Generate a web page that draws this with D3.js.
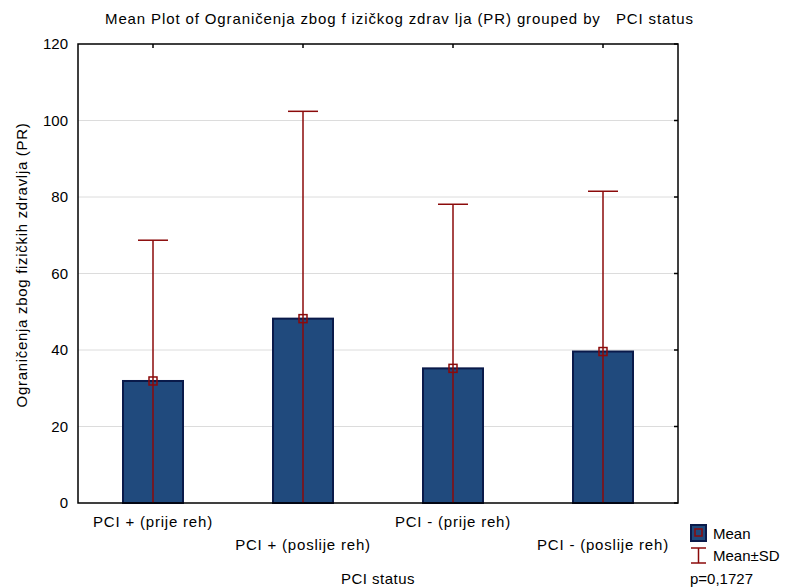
<!DOCTYPE html>
<html><head><meta charset="utf-8">
<script src="https://cdn.jsdelivr.net/npm/d3@7"></script>
<style>body{margin:0;background:#fff}svg{display:block;font-family:"Liberation Sans",Arial,sans-serif}text{white-space:pre}</style>
</head><body><svg id="c" width="787" height="588"></svg>
<script>
const categories = ["PCI + (prije reh)", "PCI + (poslije reh)", "PCI - (prije reh)", "PCI - (poslije reh)"];
const means = [31.9, 48.2, 35.2, 39.6];
const sds = [36.8, 54.2, 42.9, 41.9];
const yTicks = [0, 20, 40, 60, 80, 100, 120];
const titleText = "Mean Plot of Ograničenja zbog f izičkog zdrav lja (PR) grouped by   PCI status";
const yLabel = "Ograničenja zbog fizičkih zdravlja (PR)";
const xLabel = "PCI status";
const pText = "p=0,1727";

const svg = d3.select("#c");
const L = 78, R = 678, T = 44, B = 503;
const x = d3.scaleBand().domain(categories).range([L, R]).paddingInner(0).paddingOuter(0);
const y = d3.scaleLinear().domain([0, 120]).range([B, T]);
const barW = x.bandwidth() * 0.4;
const barFill = "#204a7d", barStroke = "#0a1a4a", errC = "#8b0a0a";

svg.append("defs").append("clipPath").attr("id", "clip")
  .append("rect").attr("x", L).attr("y", T).attr("width", R - L).attr("height", B - T);

// grid
svg.append("g").selectAll("line").data(yTicks.filter(d => d > 0 && d < 120)).join("line")
  .attr("x1", L).attr("x2", R).attr("y1", d => y(d)).attr("y2", d => y(d))
  .attr("stroke", "#dcdcdc").attr("stroke-width", 1);

// bars
svg.append("g").selectAll("rect").data(means).join("rect")
  .attr("x", (d, i) => x(categories[i]) + x.bandwidth() / 2 - barW / 2)
  .attr("y", d => y(d)).attr("width", barW).attr("height", d => B - y(d))
  .attr("fill", barFill).attr("stroke", barStroke).attr("stroke-width", 2);

// error bars
const eg = svg.append("g").attr("clip-path", "url(#clip)");
means.forEach((m, i) => {
  const cx = x(categories[i]) + x.bandwidth() / 2;
  eg.append("line").attr("x1", cx).attr("x2", cx).attr("y1", y(m + sds[i])).attr("y2", y(m - sds[i]))
    .attr("stroke", errC).attr("stroke-width", 1.5);
  eg.append("line").attr("x1", cx - 15).attr("x2", cx + 15).attr("y1", y(m + sds[i])).attr("y2", y(m + sds[i]))
    .attr("stroke", errC).attr("stroke-width", 1.5);
  eg.append("rect").attr("x", cx - 4).attr("y", y(m) - 4).attr("width", 8).attr("height", 8)
    .attr("fill", "none").attr("stroke", errC).attr("stroke-width", 1.5);
});

// frame
svg.append("rect").attr("x", L).attr("y", T).attr("width", R - L).attr("height", B - T)
  .attr("fill", "none").attr("stroke", "#000").attr("stroke-width", 1.5);

// axes
const yAxis = d3.axisLeft(y).tickValues(yTicks).tickSize(0).tickPadding(10);
const ga = svg.append("g").attr("transform", `translate(${L},0)`).call(yAxis);
ga.select(".domain").remove();
ga.selectAll("text").attr("font-size", 15).attr("fill", "#000").attr("font-family", "Liberation Sans, Arial, sans-serif");
// inward ticks right and top
svg.append("g").selectAll("line").data(yTicks).join("line")
  .attr("x1", R - 4).attr("x2", R).attr("y1", d => y(d)).attr("y2", d => y(d)).attr("stroke", "#000").attr("stroke-width", 1.5);
svg.append("g").selectAll("line").data(categories).join("line")
  .attr("x1", d => x(d) + x.bandwidth() / 2).attr("x2", d => x(d) + x.bandwidth() / 2)
  .attr("y1", T).attr("y2", T + 4).attr("stroke", "#000").attr("stroke-width", 1.5);

// x labels staggered
svg.append("g").selectAll("text").data(categories).join("text")
  .attr("x", d => x(d) + x.bandwidth() / 2)
  .attr("y", (d, i) => i % 2 === 0 ? 527 : 550)
  .attr("text-anchor", "middle").attr("font-size", 15).attr("letter-spacing", 0.8).text(d => d);

svg.append("text").attr("x", 378).attr("y", 584).attr("text-anchor", "middle").attr("font-size", 15).attr("letter-spacing", 0.5).text(xLabel);
svg.append("text").attr("transform", "translate(27,265) rotate(-90)").attr("text-anchor", "middle")
  .attr("font-size", 15).attr("letter-spacing", 0.7).text(yLabel);
svg.append("text").attr("x", 399).attr("y", 24).attr("text-anchor", "middle").attr("font-size", 15)
  .attr("textLength", 588).attr("lengthAdjust", "spacing").text(titleText);

// legend
const lg = svg.append("g");
lg.append("rect").attr("x", 691).attr("y", 525).attr("width", 15).attr("height", 16)
  .attr("fill", barFill).attr("stroke", barStroke).attr("stroke-width", 2);
lg.append("rect").attr("x", 695).attr("y", 529).attr("width", 7).attr("height", 7)
  .attr("fill", "none").attr("stroke", errC).attr("stroke-width", 1.5);
lg.append("text").attr("x", 713).attr("y", 539).attr("font-size", 15).text("Mean");
lg.append("line").attr("x1", 698.5).attr("x2", 698.5).attr("y1", 548).attr("y2", 563).attr("stroke", errC).attr("stroke-width", 1.5);
lg.append("line").attr("x1", 691).attr("x2", 706).attr("y1", 548).attr("y2", 548).attr("stroke", errC).attr("stroke-width", 1.5);
lg.append("line").attr("x1", 691).attr("x2", 706).attr("y1", 563).attr("y2", 563).attr("stroke", errC).attr("stroke-width", 1.5);
lg.append("text").attr("x", 713).attr("y", 561).attr("font-size", 15).text("Mean±SD");
lg.append("text").attr("x", 690).attr("y", 584).attr("font-size", 15).text(pText);
</script></body></html>
